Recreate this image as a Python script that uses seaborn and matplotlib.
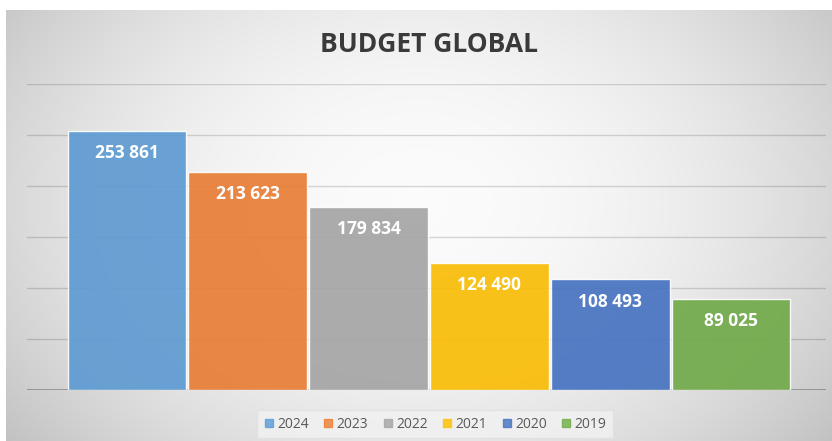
import numpy as np
import pandas as pd
import matplotlib
matplotlib.use("Agg")
import matplotlib.pyplot as plt
from matplotlib.lines import Line2D
import seaborn as sns

years = ["2024", "2023", "2022", "2021", "2020", "2019"]
values = [253861, 213623, 179834, 124490, 108493, 89025]
colors = ["#5B9BD5", "#ED7D31", "#A5A5A5", "#FFC000", "#4472C4", "#70AD47"]
title = "BUDGET GLOBAL"

sns.set_theme(style="white")
plt.rcParams["font.family"] = ["Open Sans", "DejaVu Sans"]

W, H = 832, 441
fig = plt.figure(figsize=(W / 100, H / 100), dpi=100)
fig.patch.set_facecolor("white")

# background gradient panel
bg = fig.add_axes([6 / W, 0, 826 / W, 431 / H])
bg.set_axis_off()
yy, xx = np.mgrid[0:1:300j, 0:1:600j]
dx = (xx - 0.5) / 0.5
dy = (yy - 0.45) / 0.55
r2 = dx ** 2 + 0.6 * dy ** 2
val = np.clip(0.985 - 0.14 * r2, 0, 1)
img = np.dstack([val, val, val])
bg.imshow(img, aspect="auto", extent=[0, 1, 0, 1], interpolation="bilinear")
bg.set_zorder(0)

L_px, R_px = 27, 826
left, right = L_px / W, R_px / W
bottom, top = (H - 390) / H, (H - 84) / H
ax = fig.add_axes([left, bottom, right - left, top - bottom])
ax.set_zorder(1)
ax.patch.set_alpha(0)

df = pd.DataFrame({"year": years, "value": values})
sns.barplot(data=df, x="year", y="value", hue="year", palette=colors,
            width=0.985, saturation=0.95, alpha=0.92, legend=False, ax=ax, zorder=3)

ax.set_ylim(0, 300000)
centers_px = [127, 248, 368, 489, 610, 731]
step = (centers_px[-1] - centers_px[0]) / 5
x0 = -(centers_px[0] - L_px) / step
x1 = 5 + (R_px - centers_px[-1]) / step
ax.set_xlim(x0, x1)

for yv in range(0, 300001, 50000):
    ax.axhline(yv, color="black", alpha=0.3 if yv == 0 else 0.15,
               lw=1.3 if yv == 0 else 1.0, zorder=1)

for sp in ax.spines.values():
    sp.set_visible(False)
ax.set_xticks([])
ax.set_yticks([])
ax.set_xlabel("")
ax.set_ylabel("")

for cont in ax.containers:
    for patch, v in zip(cont.patches, cont.datavalues):
        cx = patch.get_x() + patch.get_width() / 2
        ax.annotate(f"{int(v):,}".replace(",", " "), xy=(cx, patch.get_height()),
                    xytext=(0, -16), textcoords="offset points", ha="center", va="center",
                    color="white", fontsize=12.5, fontweight="bold", zorder=5)

fig.text(429 / W, 1 - 45 / H, title, ha="center", va="center", fontsize=19,
         fontweight="bold", color="#3a3a3a")

handles = [Line2D([0], [0], marker="s", linestyle="none", markersize=6,
                  markerfacecolor=c, markeredgecolor=c, alpha=0.8) for c in colors]
leg = fig.legend(handles, years, loc="center", bbox_to_anchor=(435 / W, 1 - 424 / H),
                 ncol=6, frameon=True, fontsize=10, handletextpad=0.2, columnspacing=1.0,
                 handlelength=0.8, borderpad=0.45)
leg.get_frame().set_facecolor("#f2f2f2")
leg.get_frame().set_edgecolor("#e0e0e0")
leg.get_frame().set_boxstyle("square", pad=0)
for t in leg.get_texts():
    t.set_color("#595959")

fig.savefig("out.png", dpi=100)
